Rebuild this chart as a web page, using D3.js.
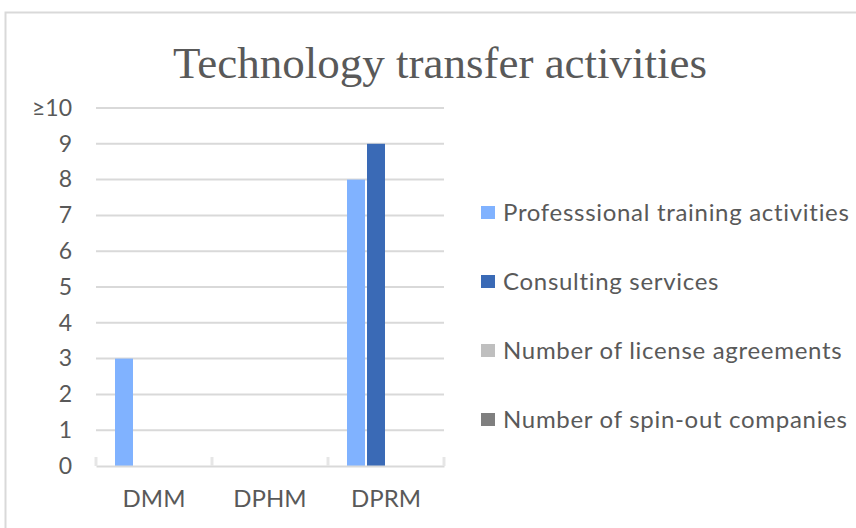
<!DOCTYPE html>
<html>
<head>
<style>
  body { margin: 0; background: #fff; }
  text { font-family: Lato, "Liberation Sans", sans-serif; fill: #595959; }
</style>
</head>
<body>
<svg id="chart" width="856" height="528"></svg>
<script src="https://d3js.org/d3.v7.min.js"></script>
<script>
const categories = ['DMM', 'DPHM', 'DPRM'];
const seriesNames = ['Professsional training activities', 'Consulting services',
                     'Number of license agreements', 'Number of spin-out companies'];
const professionalTraining = [3, 0, 8];
const consultingServices = [0, 0, 9];
const licenseAgreements = [0, 0, 0];
const spinOutCompanies = [0, 0, 0];
const yTicks = [0, 1, 2, 3, 4, 5, 6, 7, 8, 9, 10];
const yTickLabels = ['0', '1', '2', '3', '4', '5', '6', '7', '8', '9', '\u226510'];
const colors = ['#80b2ff', '#3a6ab6', '#bfbfbf', '#7f7f7f'];

const seriesValues = [professionalTraining, consultingServices, licenseAgreements, spinOutCompanies];

const svg = d3.select('#chart');

// frame
svg.append('rect')
   .attr('x', 5.5).attr('y', 12.5)
   .attr('width', 900).attr('height', 600)
   .attr('fill', 'none').attr('stroke', '#d9d9d9').attr('stroke-width', 2);

svg.append('text')
   .attr('x', 440).attr('y', 78)
   .attr('text-anchor', 'middle')
   .style('font-family', '"Liberation Serif", "DejaVu Serif", serif')
   .style('font-size', '45px')
   .text('Technology transfer activities');

const plot = {left: 96, right: 444, top: 108, bottom: 466};

const y = d3.scaleLinear().domain([0, 10]).range([plot.bottom, plot.top]);
const x0 = d3.scaleBand().domain(categories).range([plot.left, plot.right]).paddingInner(0).paddingOuter(0);
const x1 = d3.scaleBand().domain(d3.range(seriesNames.length))
             .range([19, x0.bandwidth() - 19]).paddingInner(0.1);

// gridlines
svg.append('g')
   .selectAll('line')
   .data(yTicks.filter(d => d > 0))
   .join('line')
   .attr('x1', plot.left).attr('x2', plot.right)
   .attr('y1', d => y(d)).attr('y2', d => y(d))
   .attr('stroke', '#d9d9d9').attr('stroke-width', 2);

// y axis labels
const yAxis = d3.axisLeft(y).tickValues(yTicks)
                .tickFormat((d, i) => yTickLabels[i]).tickSize(0).tickPadding(0);
const yg = svg.append('g').attr('transform', 'translate(72,0)').call(yAxis);
yg.select('.domain').remove();
yg.selectAll('text')
  .style('font-size', '23px')
  .style('font-family', 'Lato, "Liberation Sans", sans-serif')
  .attr('fill', '#595959');
yg.selectAll('text').filter((d, i) => i === 10).attr('fill', '#404040');

// bars
const groups = svg.append('g')
   .selectAll('g')
   .data(categories)
   .join('g')
   .attr('transform', d => `translate(${x0(d)},0)`);

groups.selectAll('rect')
   .data((d, ci) => seriesValues.map((vals, si) => ({si, v: vals[ci]})))
   .join('rect')
   .attr('x', d => x1(d.si))
   .attr('width', x1.bandwidth())
   .attr('y', d => y(d.v))
   .attr('height', d => y(0) - y(d.v))
   .attr('fill', d => colors[d.si]);

// x axis
const xAxis = d3.axisBottom(x0).tickSize(0).tickPadding(24);
const xg = svg.append('g').attr('transform', `translate(0,${plot.bottom})`).call(xAxis);
xg.select('.domain').attr('stroke', '#d9d9d9').attr('stroke-width', 2);
xg.selectAll('text')
  .style('font-size', '24px')
  .style('font-family', 'Lato, "Liberation Sans", sans-serif')
  .attr('fill', '#595959');

// category boundary ticks
svg.append('g')
   .selectAll('line')
   .data(categories.map(c => x0(c)).concat([plot.right]))
   .join('line')
   .attr('x1', d => d).attr('x2', d => d)
   .attr('y1', plot.bottom - 9).attr('y2', plot.bottom)
   .attr('stroke', '#e6e6e6').attr('stroke-width', 3);

// legend
const legend = svg.append('g')
   .selectAll('g')
   .data(seriesNames)
   .join('g')
   .attr('transform', (d, i) => `translate(481,${213 + i * 69})`);

legend.append('rect')
   .attr('x', 0).attr('y', -7)
   .attr('width', 14).attr('height', 13)
   .attr('fill', (d, i) => colors[i]);

legend.append('text')
   .attr('x', 22).attr('y', 0)
   .attr('dy', '0.35em')
   .style('font-size', '24px')
   .style('letter-spacing', '0.7px')
   .text(d => d);
</script>
</body>
</html>
